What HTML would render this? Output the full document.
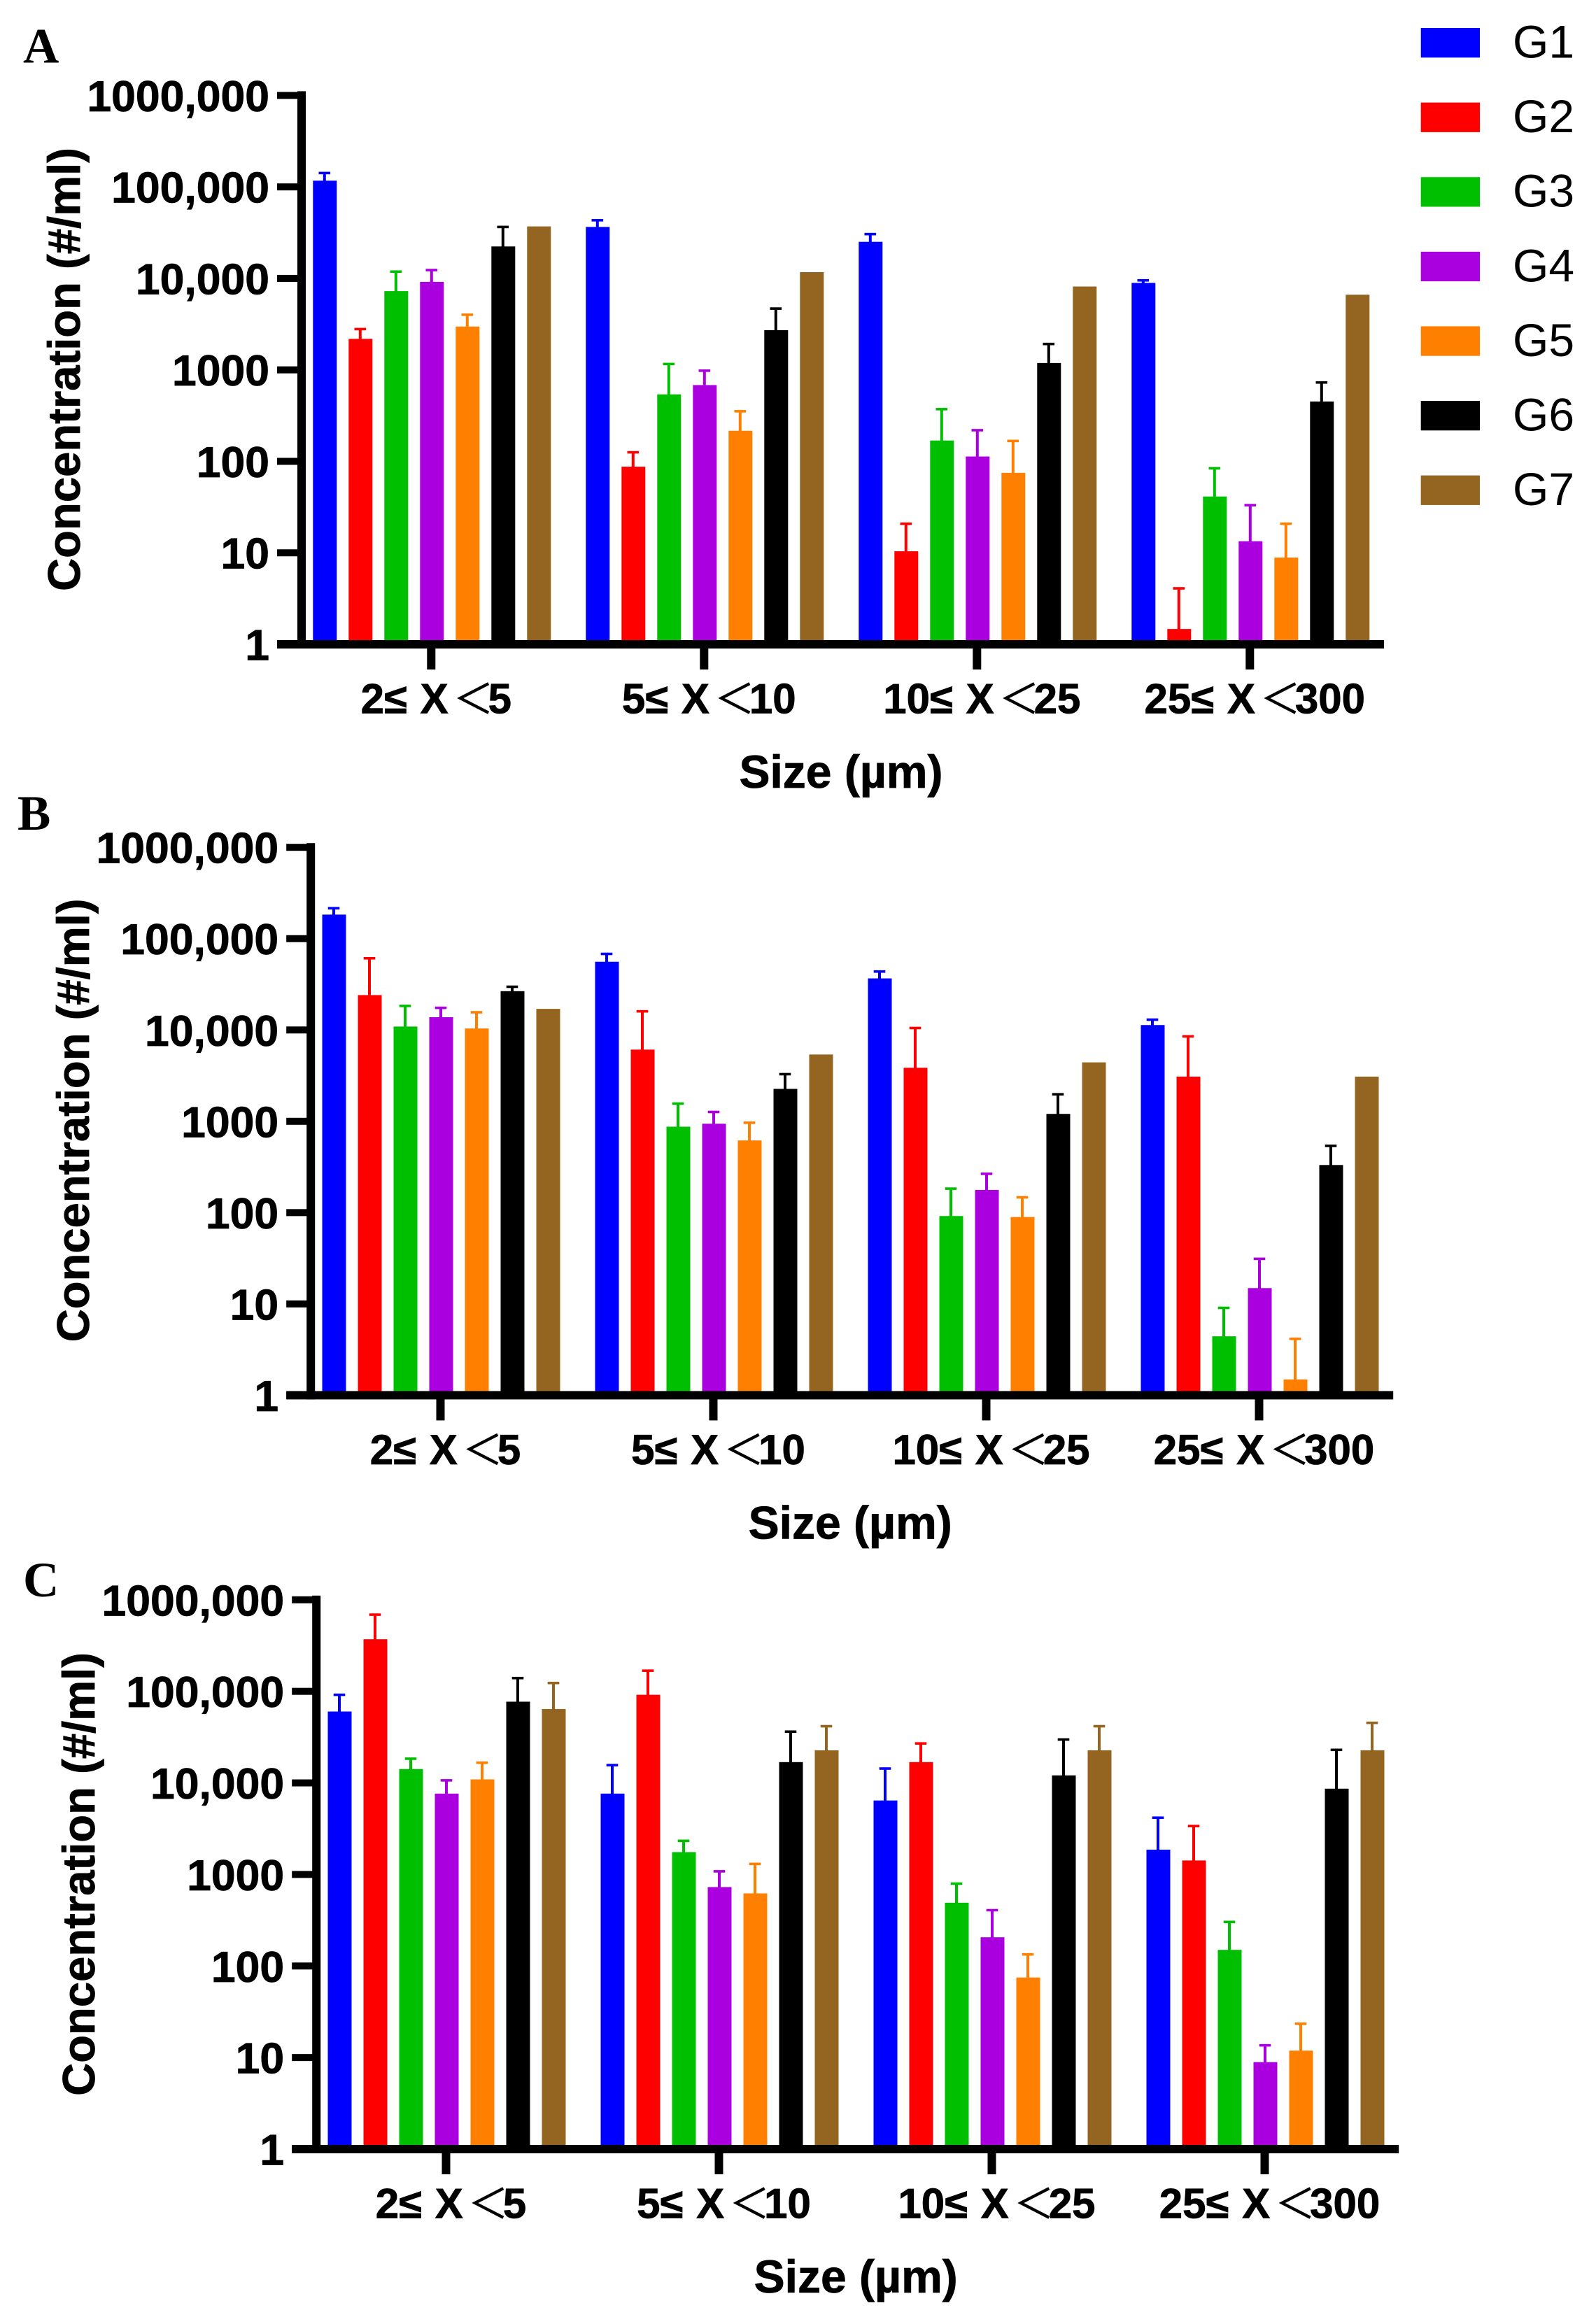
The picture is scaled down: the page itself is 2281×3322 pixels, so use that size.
<!DOCTYPE html>
<html lang="en">
<head>
<meta charset="utf-8">
<title>Particle concentration by size</title>
<style>
html,body{margin:0;padding:0;background:#fff;}
svg{display:block;}
text{fill:#000;font-family:"Liberation Sans",sans-serif;}
</style>
</head>
<body>
<svg id="figure" xmlns="http://www.w3.org/2000/svg" width="2281" height="3322" viewBox="0 0 2281 3322"></svg>
<script>
const sizeBins = [
  ["2≤ X", "＜", "5"],
  ["5≤ X", "＜", "10"],
  ["10≤ X", "＜", "25"],
  ["25≤ X", "＜", "300"]
];
const seriesNames = ["G1", "G2", "G3", "G4", "G5", "G6", "G7"];
const seriesColors = ["#0000ff", "#ff0000", "#00bf00", "#aa00e0", "#ff8000", "#000000", "#936520"];
const yTickValues = [1, 10, 100, 1000, 10000, 100000, 1000000];
const yTickLabels = ["1", "10", "100", "1000", "10,000", "100,000", "1000,000"];

const panelAMeans = [
  [117000, 36500, 25100, 8930],
  [2183, 87.4, 10.4, 1.47],
  [7260, 540, 169, 41.3],
  [9160, 682, 113, 13.4],
  [2976, 216, 74.9, 8.88],
  [22340, 2717, 1189, 451],
  [37000, 11700, 8150, 6630]
];
const panelAUppers = [
  [141800, 43200, 30480, 9520],
  [2790, 125.5, 20.8, 4.09],
  [11860, 1158, 372, 84],
  [12330, 980, 219, 33.2],
  [4006, 353, 167, 20.8],
  [36500, 4677, 1919, 728],
  [null, null, null, null]
];
const panelBMeans = [
  [183400, 55850, 36700, 11320],
  [24100, 6095, 3855, 3084],
  [10900, 873, 91.7, 4.42],
  [13800, 940, 177, 14.9],
  [10380, 617, 89.5, 1.49],
  [26600, 2264, 1205, 332],
  [17020, 5384, 4417, 3084]
];
const panelBUppers = [
  [215400, 68100, 43650, 12970],
  [60950, 16000, 10510, 8510],
  [18330, 1563, 183, 9.06],
  [17470, 1265, 266, 31.2],
  [15620, 964, 147, 4.15],
  [29730, 3280, 1976, 538],
  [null, null, null, null]
];
const panelCMeans = [
  [60200, 7640, 6427, 1866],
  [370900, 91700, 16870, 1422],
  [14170, 1754, 491, 150],
  [7640, 728, 206, 8.92],
  [10930, 621, 74.9, 11.9],
  [77100, 16870, 12080, 8650],
  [64100, 22700, 22700, 22700]
];
const panelCUppers = [
  [91700, 15640, 14350, 4169],
  [688000, 168100, 26980, 3376],
  [18380, 2330, 794, 303],
  [10660, 1082, 407, 13.6],
  [16640, 1303, 134, 23.4],
  [139600, 36300, 29780, 22960],
  [123400, 41600, 41600, 45300]
];

const NS = "http://www.w3.org/2000/svg";
const svg = document.getElementById("figure");
const heavy = "font-weight:bold;stroke:#000;stroke-width:0.8px;";

function make(tag, attrs, parent) {
  const el = document.createElementNS(NS, tag);
  for (const k in attrs) el.setAttribute(k, attrs[k]);
  parent.appendChild(el);
  return el;
}

function drawPanel(letter, letterX, letterY, originX, topY, bottomY, means, uppers) {
  const barStart = originX + 16.3;
  const barWidth = 34;
  const barStep = 51;
  const binStep = 390;

  const yScale = function (v) {
    return bottomY - (Math.log10(v) / Math.log10(1000000)) * (bottomY - topY);
  };
  const barX = function (bin, s) {
    return barStart + bin * binStep + s * barStep;
  };
  const binCenter = function (bin) {
    return barStart + bin * binStep + 3 * barStep + barWidth / 2 - 1;
  };

  const panel = make("g", {}, svg);
  
  

  const title = make("text", {
    x: letterX, y: letterY,
    style: 'font-family:"Liberation Serif",serif;font-weight:bold;font-size:71px'
  }, panel);
  title.textContent = letter;
  
  

  means.forEach(function (row, s) {
    row.forEach(function (v, bin) {
      const x = barX(bin, s);
      const y = yScale(v);
      const bar = make("rect", {
        x: x, y: y, width: barWidth, height: bottomY - y, fill: seriesColors[s]
      }, panel);
      
      

      const upper = uppers[s][bin];
      if (upper !== null) {
        const cx = x + barWidth / 2 - 0.5;
        const yu = yScale(upper);
        const stem = make("rect", {
          x: cx - 2, y: yu, width: 4, height: y - yu + 1, fill: seriesColors[s]
        }, panel);
        
        
        const cap = make("rect", {
          x: cx - 8.3, y: yu - 1.8, width: 16.6, height: 3.6, fill: seriesColors[s]
        }, panel);
        
        
      }
    });
  });

  const yAxis = make("rect", {
    x: originX - 6, y: topY - 6, width: 12, height: bottomY - topY + 12, fill: "#000"
  }, panel);
  
  

  const xAxis = make("rect", {
    x: originX - 35, y: bottomY - 6, width: 1582, height: 12, fill: "#000"
  }, panel);
  
  

  yTickValues.forEach(function (v, i) {
    const y = yScale(v);
    const tick = make("rect", {
      x: originX - 35, y: y - 5, width: 35, height: 10, fill: "#000"
    }, panel);
    
    
    const label = make("text", {
      x: originX - 46, y: y + 22.5, "text-anchor": "end",
      style: heavy + "font-size:62.5px"
    }, panel);
    label.textContent = yTickLabels[i];
    
    
  });

  sizeBins.forEach(function (parts, bin) {
    const cx = binCenter(bin);
    const tick = make("rect", {
      x: cx - 6, y: bottomY, width: 12, height: 36, fill: "#000"
    }, panel);
    
    

    const label = make("text", {
      x: cx + 7, y: bottomY + 98.5, "text-anchor": "middle",
      style: heavy + "font-size:60px;word-spacing:2px"
    }, panel);
    
    
    const a = make("tspan", {}, label);
    a.textContent = parts[0];
    const b = make("tspan", {
      dx: 7,
      style: 'font-family:"Noto Sans CJK SC",sans-serif;font-weight:normal;font-size:58px;stroke-width:0.4px'
    }, label);
    b.textContent = parts[1];
    const c = make("tspan", { dx: -8 }, label);
    c.textContent = parts[2];
  });

  const xTitle = make("text", {
    x: originX + 771, y: bottomY + 205, "text-anchor": "middle",
    style: heavy + "font-size:66px"
  }, panel);
  xTitle.textContent = "Size (µm)";
  
  

  const titleX = originX - 317;
  const titleY = bottomY - 393;
  const yTitle = make("text", {
    x: titleX, y: titleY, "text-anchor": "middle",
    transform: "rotate(-90 " + titleX + " " + titleY + ")",
    style: heavy + "font-size:65.2px"
  }, panel);
  yTitle.textContent = "Concentration (#/ml)";
  
  
}

drawPanel("A", 33, 89.5, 431, 136.4, 921, panelAMeans, panelAUppers);
drawPanel("B", 25, 1186, 444.2, 1211.2, 1994.4, panelBMeans, panelBUppers);
drawPanel("C", 33, 2282, 452.2, 2286.8, 3072, panelCMeans, panelCUppers);

const legend = make("g", {}, svg);


seriesNames.forEach(function (name, i) {
  const top = 40 + i * 106.6;
  const swatch = make("rect", {
    x: 2030.7, y: top, width: 84.3, height: 42.3, fill: seriesColors[i]
  }, legend);
  
  
  const label = make("text", {
    x: 2162, y: top + 42.5, style: "font-size:66px"
  }, legend);
  label.textContent = name;
  
  
});
</script>
</body>
</html>
